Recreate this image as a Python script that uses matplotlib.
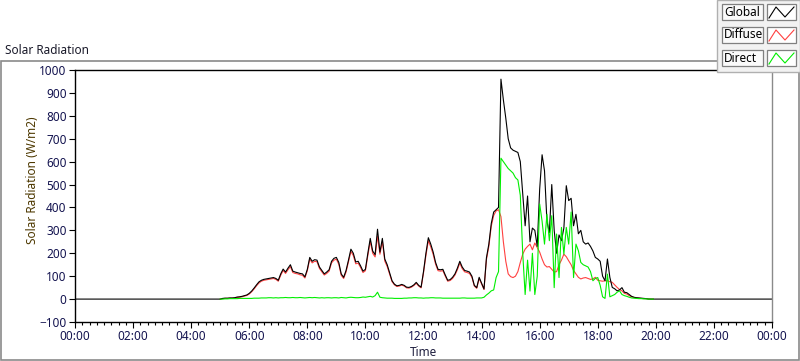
import numpy as np
import matplotlib
matplotlib.use("Agg")
import matplotlib.pyplot as plt
from matplotlib.patches import Rectangle
from matplotlib.lines import Line2D

plt.rcParams['font.family'] = ['Noto Sans', 'DejaVu Sans']

W, H = 800, 361

# daytime logging, 05:00 .. 19:55 every 5 minutes (one row per hour)
day_hours = 5 + np.arange(180) / 12.0

global_day = [
    0, 3, 4, 4, 5, 5, 6, 9, 10, 12, 15, 18,
    25, 35, 48, 62, 75, 82, 86, 88, 90, 92, 94, 90,
    82, 110, 131, 118, 135, 150, 122, 118, 115, 112, 110, 97,
    130, 182, 165, 172, 170, 140, 125, 110, 118, 128, 165, 178,
    182, 160, 110, 95, 125, 170, 218, 200, 162, 165, 145, 122,
    130, 200, 265, 210, 194, 305, 205, 265, 175, 150, 115, 80,
    65, 58, 60, 64, 60, 52, 51, 55, 62, 73, 60, 52,
    120, 200, 268, 240, 205, 160, 130, 128, 130, 105, 82, 85,
    95, 110, 135, 165, 140, 125, 122, 118, 100, 60, 50, 95,
    70, 44, 180, 240, 330, 380, 390, 400, 960, 870, 790, 700,
    660, 650, 645, 640, 600, 460, 320, 450, 250, 310, 300, 230,
    480, 630, 560, 340, 290, 500, 300, 200, 280, 255, 310, 495,
    430, 440, 320, 370, 285, 300, 250, 240, 245, 230, 210, 182,
    175, 165, 100, 80, 175, 95, 51, 45, 36, 40, 50, 30,
    28, 20, 12, 8, 6, 5, 4, 3, 2, 0, 0, 0,
]

diffuse_day = [
    0, 2, 3, 3, 4, 4, 5, 7, 8, 10, 13, 16,
    22, 32, 44, 58, 70, 78, 82, 84, 86, 88, 90, 86,
    78, 104, 125, 112, 128, 142, 116, 112, 110, 106, 104, 92,
    124, 175, 158, 165, 163, 134, 119, 105, 112, 122, 158, 170,
    174, 152, 104, 90, 118, 162, 208, 190, 154, 157, 138, 116,
    124, 190, 252, 200, 184, 275, 196, 252, 166, 142, 109, 76,
    62, 55, 57, 61, 57, 49, 48, 52, 59, 69, 57, 49,
    114, 190, 255, 228, 195, 152, 124, 122, 124, 100, 78, 81,
    90, 105, 128, 157, 133, 119, 116, 112, 95, 57, 47, 90,
    66, 42, 172, 230, 318, 365, 385, 390, 360, 250, 165, 110,
    98, 94, 100, 120, 160, 196, 218, 230, 240, 215, 245, 225,
    205, 175, 150, 140, 142, 130, 118, 120, 150, 170, 196, 185,
    167, 150, 125, 110, 95, 88, 92, 94, 90, 86, 88, 95,
    82, 80, 78, 80, 80, 76, 73, 62, 51, 42, 36, 25,
    22, 15, 10, 7, 5, 4, 3, 2, 2, 1, 0, 0,
]

direct_day = [
    0, 0, 1, 1, 2, 2, 2, 2, 3, 3, 3, 3,
    3, 3, 4, 4, 4, 5, 5, 5, 6, 6, 5, 6,
    5, 6, 6, 7, 6, 6, 7, 6, 6, 7, 6, 5,
    6, 7, 6, 7, 6, 5, 6, 5, 6, 6, 5, 6,
    6, 5, 7, 6, 5, 7, 8, 7, 6, 6, 7, 9,
    8, 10, 12, 9, 15, 30, 8, 6, 5, 4, 4, 4,
    3, 3, 3, 3, 4, 4, 5, 5, 6, 6, 5, 5,
    4, 5, 5, 6, 6, 5, 5, 5, 4, 4, 4, 4,
    4, 4, 4, 4, 5, 5, 4, 4, 4, 4, 5, 5,
    5, 8, 18, 26, 36, 40, 94, 120, 615, 600, 585, 570,
    560, 550, 530, 520, 453, 200, 20, 170, 35, 200, 20, 100,
    415, 340, 240, 370, 255, 364, 50, 284, 94, 313, 196, 313,
    240, 380, 94, 240, 211, 160, 150, 145, 140, 120, 80, 90,
    94, 60, 10, 3, 109, 10, 15, 20, 30, 36, 20, 15,
    12, 8, 5, 4, 3, 2, 2, 1, 1, 0, 0, 0,
]

# global is logged over the whole day (zero at night)
global_hours = np.concatenate([[0.0], day_hours, [24.0]])
global_vals = np.concatenate([[0], global_day, [0]])

series_names = ["Global", "Diffuse", "Direct"]
series_colors = ["#000000", "#ff4040", "#00ee00"]

tick_col = "#141450"


def px(x, y):
    return x / W, 1 - y / H


fig = plt.figure(figsize=(W / 100, H / 100), dpi=100)

# outer frame
fig.add_artist(Rectangle(px(1, 360), 798 / W, 299 / H, transform=fig.transFigure,
                         fill=False, edgecolor="#8a8a8a", linewidth=1.2))
fig.text(*px(5, 50), "Solar Radiation", fontsize=8.5, color="#1a1a2a",
         ha="left", va="center")

ax = fig.add_axes([75 / W, 1 - 322 / H, (772 - 75) / W, (322 - 70) / H])
ax.plot(day_hours, diffuse_day, color=series_colors[1], lw=0.8)
ax.plot(global_hours, global_vals, color=series_colors[0], lw=0.8)
ax.plot(day_hours, direct_day, color=series_colors[2], lw=0.8)

ax.set_xlim(0, 24)
ax.set_ylim(-100, 1000)
ax.set_yticks(np.arange(-100, 1001, 100))
ax.set_xticks(np.arange(0, 25, 2))
ax.set_xticklabels(["%02d:00" % (h % 24) for h in range(0, 25, 2)])
ax.set_xticks(np.arange(0, 24.01, 0.25), minor=True)
ax.tick_params(axis="both", which="major", direction="out", length=4,
               width=0.8, labelsize=8.5, labelcolor=tick_col, pad=2)
ax.tick_params(axis="x", which="minor", direction="out", length=2.2, width=0.8)
ax.tick_params(axis="y", which="minor", left=False)

for side in ["left", "top", "bottom"]:
    ax.spines[side].set_color("black")
    ax.spines[side].set_linewidth(1.0)
ax.spines["right"].set_color("#8a8a8a")
ax.spines["right"].set_linewidth(1.0)

ax.set_xlabel("Time", fontsize=8.5, color="#202040", labelpad=2)
fig.text(*px(33, 180), "Solar Radiation (W/m2)", fontsize=8.5, color="#4d3800",
         rotation=90, ha="center", va="center")

# legend panel in the top right corner
fig.add_artist(Rectangle(px(717, 72), 83 / W, 72 / H, transform=fig.transFigure,
                         facecolor="#f2f2f2", edgecolor="#b0b0b0", linewidth=1.0))
rows_y = [4, 27, 50]
for name, col, y0 in zip(series_names, series_colors, rows_y):
    fig.add_artist(Rectangle(px(722, y0 + 16), 41 / W, 16 / H, transform=fig.transFigure,
                             facecolor="#fafafa", edgecolor="#808080", linewidth=0.9))
    fig.text(*px(724, y0 + 8), name, fontsize=8.5, color="black", ha="left", va="center")
    fig.add_artist(Rectangle(px(767, y0 + 16), 29 / W, 16 / H, transform=fig.transFigure,
                             facecolor="white", edgecolor="#808080", linewidth=0.9))
    zx = [769, 776, 785, 794]
    zy = [y0 + 14, y0 + 3, y0 + 13, y0 + 3]
    pts = [px(a, b) for a, b in zip(zx, zy)]
    fig.add_artist(Line2D([p[0] for p in pts], [p[1] for p in pts],
                          transform=fig.transFigure, color=col, lw=0.8))

fig.savefig("out.png", dpi=100, facecolor="white")
